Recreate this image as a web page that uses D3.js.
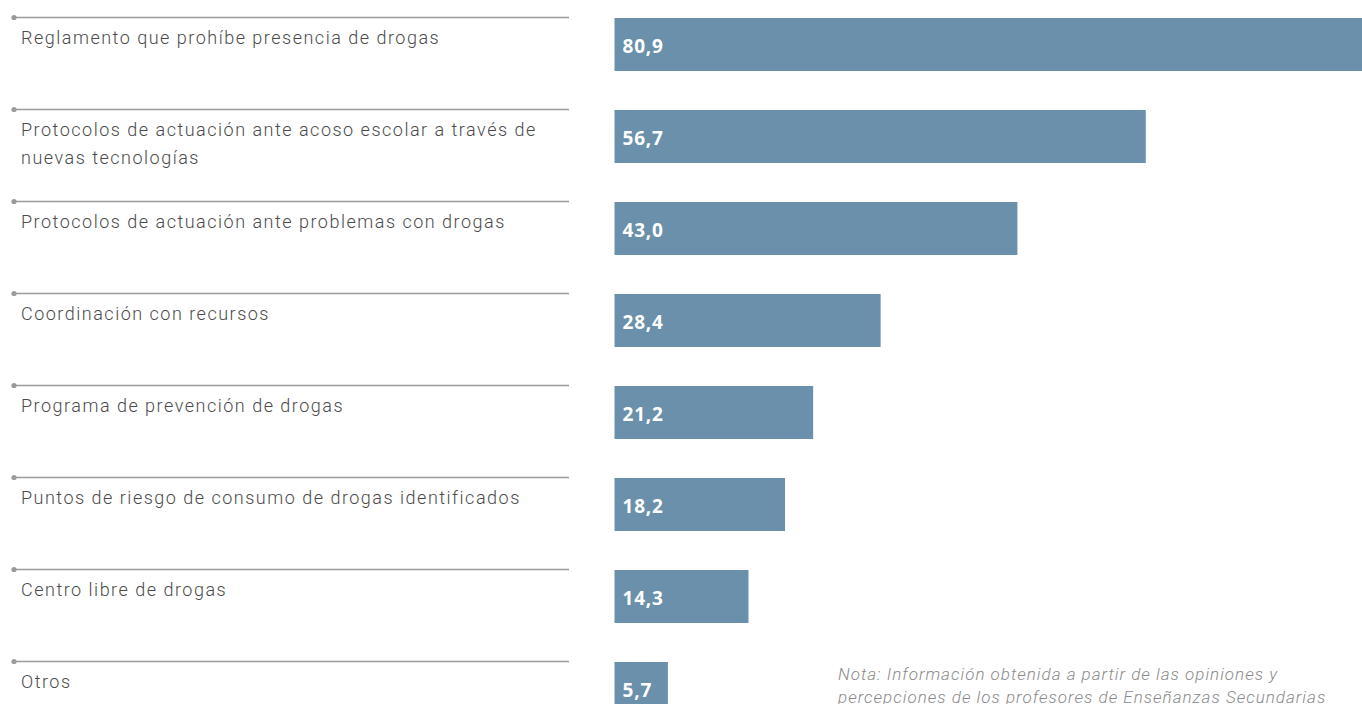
<!DOCTYPE html>
<html><head><meta charset="utf-8">
<script src="https://cdn.jsdelivr.net/npm/d3@7"></script>
<style>html,body{margin:0;padding:0;background:#fff;overflow:hidden}</style>
</head><body>
<svg id="c" width="1362" height="704"></svg>
<script>
const categories = [
  ["Reglamento que prohíbe presencia de drogas"],
  ["Protocolos de actuación ante acoso escolar a través de", "nuevas tecnologías"],
  ["Protocolos de actuación ante problemas con drogas"],
  ["Coordinación con recursos"],
  ["Programa de prevención de drogas"],
  ["Puntos de riesgo de consumo de drogas identificados"],
  ["Centro libre de drogas"],
  ["Otros"]
];
const values = [80.9, 56.7, 43.0, 28.4, 21.2, 18.2, 14.3, 5.7];
const valueLabels = ["80,9", "56,7", "43,0", "28,4", "21,2", "18,2", "14,3", "5,7"];
const noteLines = [
  "Nota: Información obtenida a partir de las opiniones y",
  "percepciones de los profesores de Enseñanzas Secundarias"
];

const svg = d3.select("#c");
const ids = d3.range(values.length);
const step = 92, pin = 0.424;
const y = d3.scaleBand().domain(ids).range([18, 18 + step * (ids.length - pin)]).paddingInner(pin).paddingOuter(0).align(0);
const x = d3.scaleLinear().domain([0, 100]).range([614.5, 614.5 + 937]);

const g = svg.append("g");
// label separators
g.selectAll("line.sep").data(ids).join("line")
  .attr("x1", 13).attr("x2", 569)
  .attr("y1", d => y(d) - 0.5).attr("y2", d => y(d) - 0.5)
  .attr("stroke", "#9a9a9a").attr("stroke-width", 1.6);
g.selectAll("circle.dot").data(ids).join("circle")
  .attr("cx", 14).attr("cy", d => y(d) - 0.5).attr("r", 2.6).attr("fill", "#9a9a9a");
// labels
const lab = g.selectAll("text.lab").data(ids).join("text")
  .attr("x", 21).attr("y", d => y(d) + 25.5)
  .attr("font-family", "Roboto").attr("font-weight", 300).attr("font-size", 18)
  .attr("letter-spacing", 1.5)
  .attr("fill", "#4a4a4a");
lab.selectAll("tspan").data(d => categories[d]).join("tspan")
  .attr("x", 21).attr("dy", (d, i) => i === 0 ? 0 : 28.5).text(d => d);
// bars
g.selectAll("rect.bar").data(ids).join("rect")
  .attr("x", x(0)).attr("y", d => y(d))
  .attr("width", d => x(values[d]) - x(0)).attr("height", y.bandwidth())
  .attr("fill", "#6a90ab");
g.selectAll("text.val").data(ids).join("text")
  .attr("x", x(0) + 8).attr("y", d => y(d) + 35)
  .attr("font-family", "Open Sans").attr("font-weight", 700).attr("font-size", 19)
  .attr("letter-spacing", 0.8)
  .attr("fill", "#ffffff").text(d => valueLabels[d]);
// note
g.append("text").attr("x", 838).attr("y", 680)
  .attr("font-family", "Roboto").attr("font-style", "italic").attr("font-weight", 300)
  .attr("font-size", 17).attr("letter-spacing", 1.0).attr("fill", "#8a8a8a")
  .selectAll("tspan").data(noteLines).join("tspan")
  .attr("x", 838).attr("dy", (d, i) => i === 0 ? 0 : 23).text(d => d);
</script>
</body></html>
